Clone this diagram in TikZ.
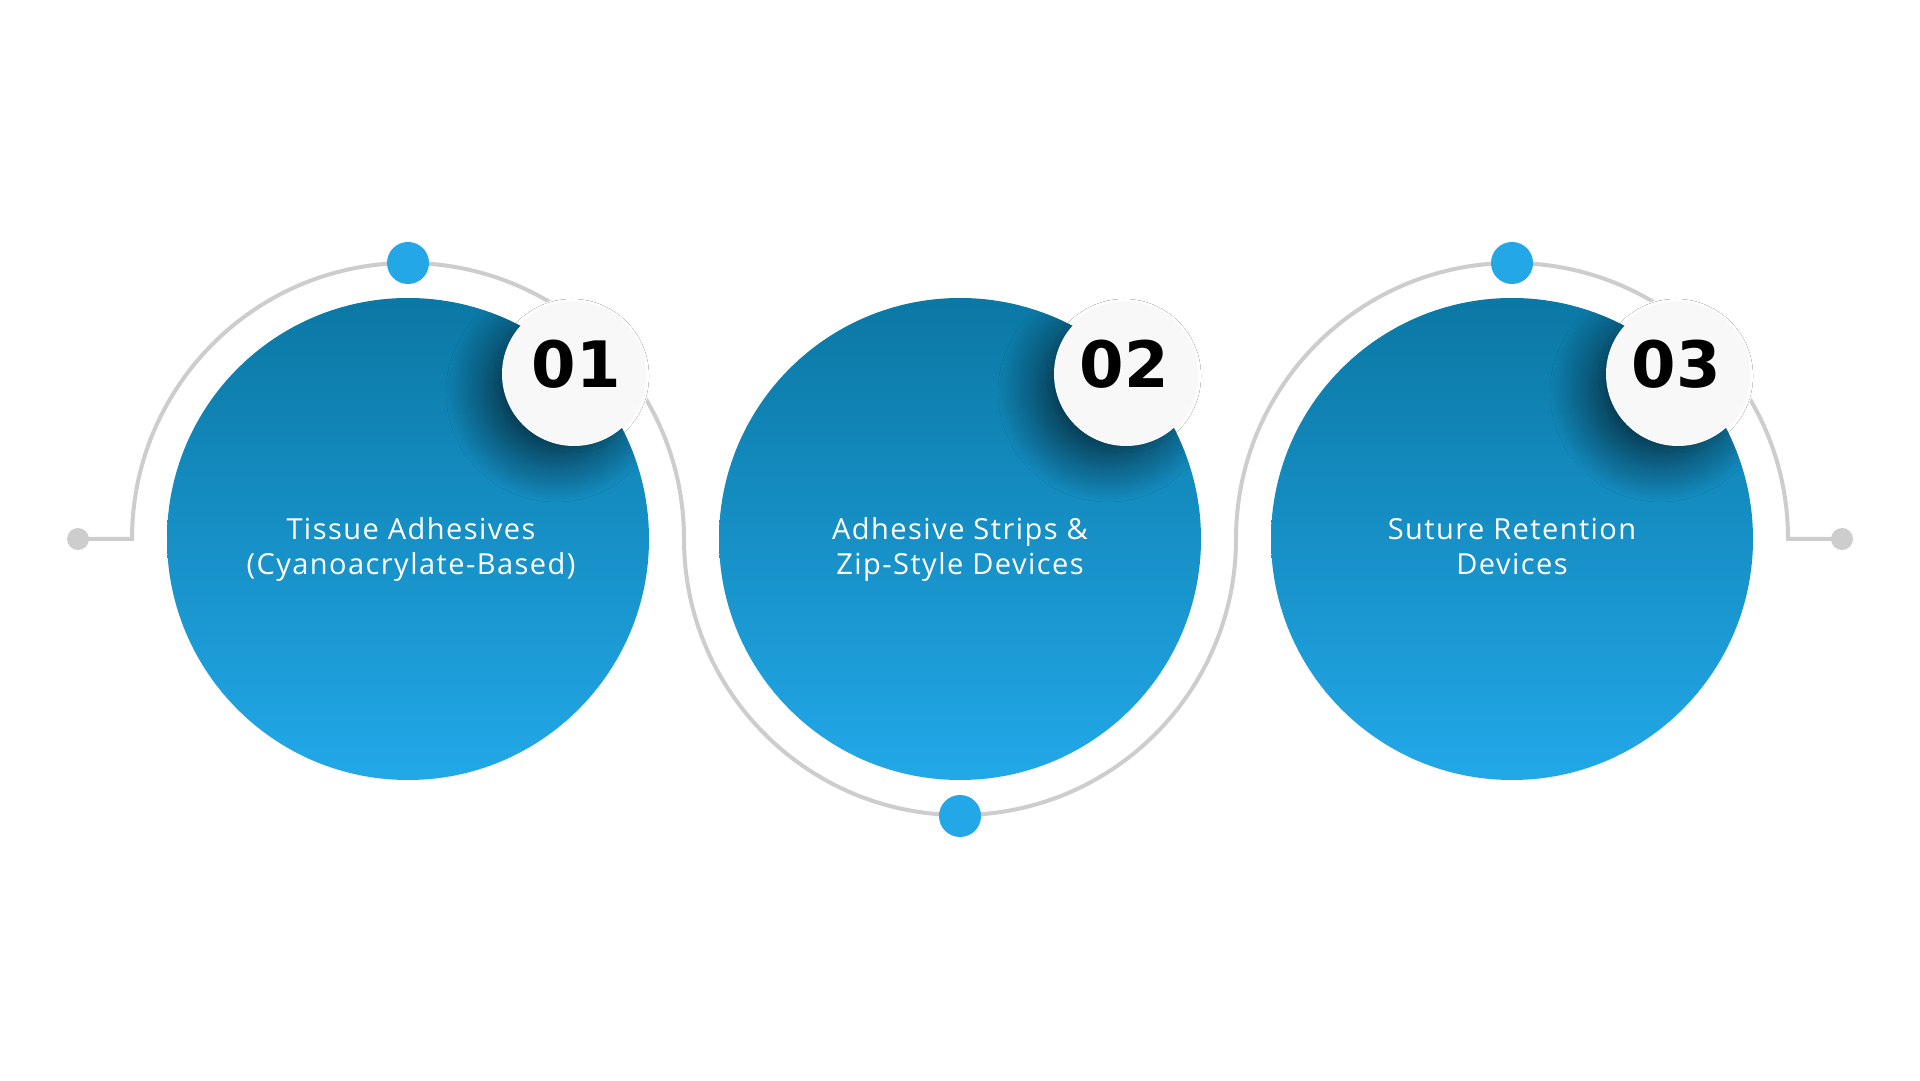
\documentclass[tikz,border=0pt]{standalone}
\usepackage{fontspec}
\usetikzlibrary{shadows.blur}
\newfontfamily\txtfont{Open Sans}[LetterSpace=5]
\newfontfamily\numfont{DejaVu Sans}
\definecolor{circtop}{HTML}{0B78A4}
\definecolor{circbot}{HTML}{22A8E8}
\definecolor{dotblue}{HTML}{24A7E7}
\definecolor{linegray}{HTML}{CDCDCD}
\definecolor{badgewhite}{HTML}{F8F8F8}
\tikzset{
  bigcirc/.style={circle, minimum size=482pt, inner sep=0pt, top color=circtop, bottom color=circbot, draw=none},
  bluedot/.style={circle, minimum size=42pt, inner sep=0pt, fill=dotblue},
  graydot/.style={circle, minimum size=22pt, inner sep=0pt, fill=linegray},
  gapring/.style={circle, minimum size=154pt, inner sep=0pt, fill=white},
  badge/.style={circle, minimum size=144pt, inner sep=0pt, fill=badgewhite},
  badgeshadow/.style={blur shadow={shadow xshift=-18pt, shadow yshift=-18pt, shadow blur radius=38pt, shadow opacity=60, shadow blur steps=30}},
  badgehalo/.style={blur shadow={shadow xshift=-2pt, shadow yshift=-2pt, shadow blur radius=5pt, shadow opacity=6}},
  numtext/.style={font=\numfont\bfseries\fontsize{64}{64}\selectfont, text=black},
  label/.style={font=\txtfont\fontsize{29}{35}\selectfont, text=white, align=center},
  track/.style={draw=linegray, line width=4pt}
}
\begin{document}
\begin{tikzpicture}[x=1pt,y=1pt]
\useasboundingbox (0,0) rectangle (1920,1080);
\fill[white] (0,0) rectangle (1920,1080);
% track
\coordinate (L) at (78,541);
\coordinate (A) at (132,541);
\coordinate (R) at (1842,541);
\draw[track] (L) -- (A) arc[start angle=180, end angle=0, radius=276pt]
  arc[start angle=180, end angle=360, radius=276pt]
  arc[start angle=180, end angle=0, radius=276pt] -- (R);
\node[graydot] (gl) at (L) {};
\node[graydot] (gr) at (R) {};
% gaps in track around badges
\foreach \bx in {574,1126,1678} { \node[gapring] at (\bx,706) {}; }
% blue dots
\node[bluedot] (d1) at (408,817) {};
\node[bluedot] (d2) at (960,264) {};
\node[bluedot] (d3) at (1512,817) {};
% main circles
\node[bigcirc] (c1) at (408,541) {};
\node[bigcirc] (c2) at (960,541) {};
\node[bigcirc] (c3) at (1512,541) {};
% shadows of badges on the circles
\foreach \cx/\bx in {408/574, 960/1126, 1512/1678} {
  \begin{scope}
    \clip (\cx,541) circle (241pt);
    \path[badgeshadow] (\bx,706) circle (72pt);
  \end{scope}
}
% badges
\node[badge, badgehalo] (b1) at (574,706) {};
\node[badge, badgehalo] (b2) at (1126,706) {};
\node[badge, badgehalo] (b3) at (1678,706) {};
\node[numtext] (n1) at (576,716) {01};
\node[numtext] (n2) at (1124,716) {02};
\node[numtext] (n3) at (1676,716) {03};
% labels
\node[label] (t1) at (411,530) {\strut Tissue Adhesives\\(Cyanoacrylate-Based)\strut};
\node[label] (t2) at (960,530) {\strut Adhesive Strips \&\\Zip-Style Devices\strut};
\node[label] (t3) at (1512,530) {\strut Suture Retention\\Devices\strut};
\end{tikzpicture}
\end{document}
